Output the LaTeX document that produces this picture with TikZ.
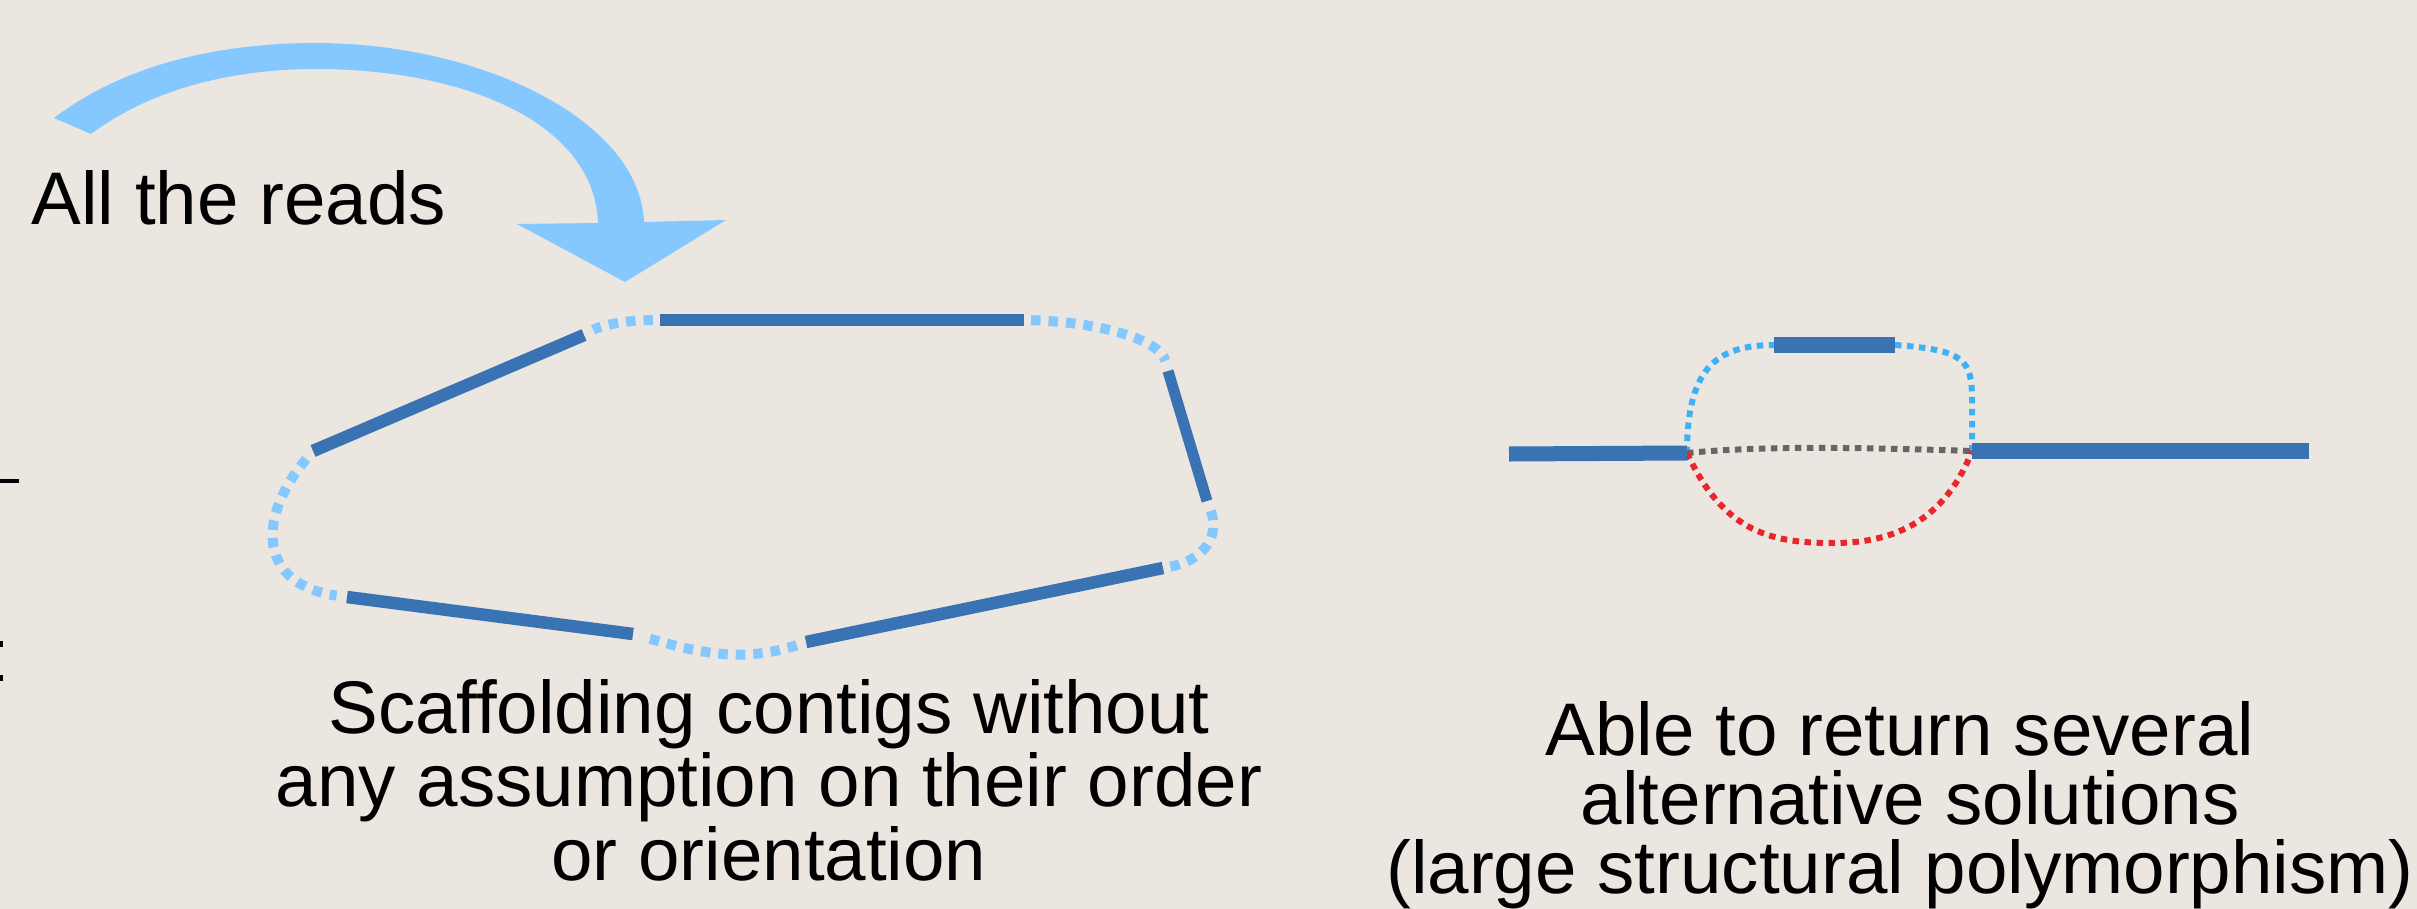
\documentclass[tikz,border=0pt]{standalone}
\usepackage{fontspec}
\setmainfont{Liberation Sans}
\usepackage{xcolor}
\usepackage{tikz}

\definecolor{bgbeige}{HTML}{EBE6E0}
\definecolor{contigblue}{HTML}{3A73B3}
\definecolor{gapblue}{HTML}{85C8FF}
\definecolor{altblue}{HTML}{3CB2F4}
\definecolor{altred}{HTML}{E8262C}
\definecolor{altgray}{HTML}{666666}

\tikzset{
  contig/.style={contigblue, line width=0.125cm},
  widecontig/.style={contigblue, line width=0.15cm},
  gaplink/.style={gapblue, line width=0.1cm, dash pattern=on 0.095cm off 0.08cm},
  altlink/.style={line width=0.06cm, dash pattern=on 0.065cm off 0.055cm},
  caption/.style={font=\fontsize{21.2}{19.6}\selectfont, align=center, anchor=base, inner sep=0pt},
}

\begin{document}
\begin{tikzpicture}[x=0.01cm, y={(0cm,-0.01cm)}]
	 \fill[bgbeige] (0,0) rectangle (2417,909);
	 \useasboundingbox (0,0) rectangle (2417,909);
	 % cut-off marks at the left edge
	 \fill (0,479) rectangle (19,483);
	 \fill (0,641) rectangle (3,647);
	 \fill (0,675) rectangle (3,681);
	 % all the reads
	 \node[caption, anchor=base west] (reads) at (31,224) {All the reads};
	 \fill[gapblue] (54,118) .. controls (130,60) and (230,43) .. (316,43)
	     .. controls (480,43) and (640,120) .. (644,222) -- (726,220) -- (625,282)
	     -- (517,224) -- (598,223) .. controls (594,120) and (460,69) .. (316,69)
	     .. controls (230,69) and (150,90) .. (91,134) -- cycle;
	 % scaffold of contigs
	 \coordinate (c1a) at (660,320); \coordinate (c1b) at (1024,320);
	 \coordinate (c2a) at (584,335); \coordinate (c2b) at (313,451);
	 \coordinate (c3a) at (1168,371); \coordinate (c3b) at (1207,501);
	 \coordinate (c4a) at (806,642); \coordinate (c4b) at (1163,568);
	 \coordinate (c5a) at (347,597); \coordinate (c5b) at (633,634);
	 \draw[gaplink, shorten <=2pt, shorten >=3pt] (c1a) .. controls (625,320) and (600,326) .. (c2a);
	 \draw[gaplink, shorten <=2pt, shorten >=3pt] (c1b) .. controls (1100,322) and (1160,340) .. (c3a);
	 \draw[gaplink, shorten <=3pt, shorten >=3pt] (c2b) .. controls (255,520) and (260,585) .. (c5a);
	 \draw[gaplink, shorten <=5pt, shorten >=2pt] (c5b) .. controls (690,650) and (740,665) .. (c4a);
	 \draw[gaplink, shorten <=3pt, shorten >=2pt] (c3b) .. controls (1220,535) and (1205,560) .. (c4b);
	 \draw[contig] (c1a) -- (c1b);
	 \draw[contig] (c2a) -- (c2b);
	 \draw[contig, line width=0.11cm] (c3a) -- (c3b);
	 \draw[contig] (c4a) -- (c4b);
	 \draw[contig] (c5a) -- (c5b);
	 \node[caption] (scaffold) at (769,880) {Scaffolding contigs without\\any assumption on their order\\or orientation};
	 % alternative solutions
	 \coordinate (l1a) at (1509,454); \coordinate (l1b) at (1687,453);
	 \coordinate (t1a) at (1774,345); \coordinate (t1b) at (1895,345);
	 \coordinate (r1a) at (1972,451); \coordinate (r1b) at (2309,451);
	 \draw[altlink, altblue] (l1b) .. controls (1687,370) and (1715,345) .. (t1a);
	 \draw[altlink, altblue] (t1b) .. controls (1965,350) and (1972,360) .. (1972,400) -- (r1a);
	 \draw[altlink, altgray] (l1b) .. controls (1760,446) and (1850,447) .. (r1a);
	 \draw[altlink, altred] (l1b) .. controls (1725,535) and (1775,543) .. (1834,543)
	     .. controls (1895,543) and (1945,520) .. (r1a);
	 \draw[widecontig] (l1a) -- (l1b);
	 \draw[widecontig] (t1a) -- (t1b);
	 \draw[widecontig] (r1a) -- (r1b);
	 \node[caption] (solutions) at (1900,893) {Able to return several\\\hspace*{0.278em}alternative solutions\\(large structural polymorphism)};
\end{tikzpicture}
\end{document}
